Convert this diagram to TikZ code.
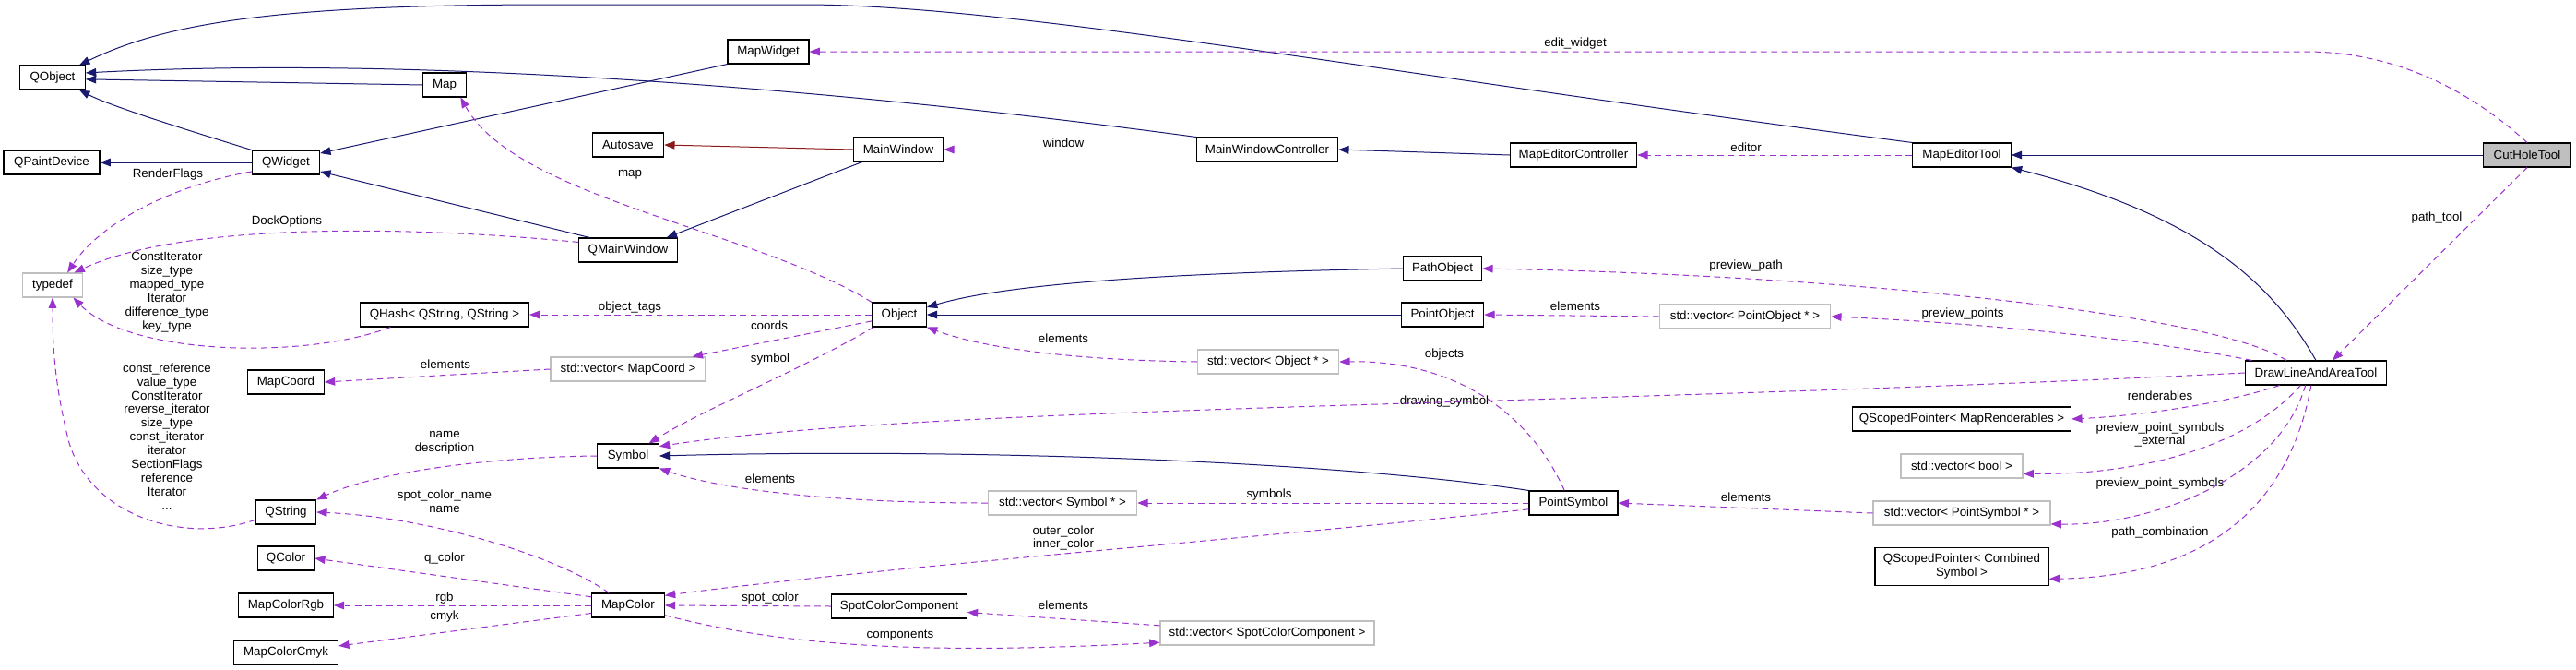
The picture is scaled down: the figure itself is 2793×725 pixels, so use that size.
\documentclass[tikz,border=0pt]{standalone}
\usepackage{fontspec}
\setmainfont{Liberation Sans}
\usetikzlibrary{arrows.meta}
\definecolor{inhcol}{HTML}{191970}
\definecolor{usecol}{HTML}{9A32CD}
\definecolor{privcol}{HTML}{8B1A1A}
\definecolor{undoc}{HTML}{BFBFBF}
\begin{document}
\begin{tikzpicture}[x=0.75pt,y=-0.75pt,
  cls/.style={draw=black,line width=0.8pt,fill=white,inner sep=0pt,minimum height=19.5pt,font=\fontsize{10}{11.2}\selectfont,align=center},
  ext/.style={cls,draw=undoc},
  lbl/.style={inner sep=0pt,font=\fontsize{10}{11.2}\selectfont,align=center},
  inherit/.style={draw=inhcol,line width=0.75pt,-{Triangle[length=8.5pt,width=6.5pt]}},
  private/.style={inherit,draw=privcol},
  usage/.style={draw=usecol,line width=0.75pt,dash pattern=on 5pt off 3.5pt,-{Triangle[length=8.5pt,width=6.5pt]}}]
  \useasboundingbox[fill=white] (0,0) rectangle (2793,725);
  \node[cls,minimum width=53pt] (QObject) at (57,84) {QObject};
  \node[cls,minimum width=35pt] (Map) at (482,92) {Map};
  \node[cls,minimum width=78pt] (QPaintDevice) at (56,176) {QPaintDevice};
  \node[cls,minimum width=55pt] (QWidget) at (310,176) {QWidget};
  \node[cls,minimum width=58pt] (Autosave) at (681,157) {Autosave};
  \node[ext,minimum width=49pt] (typedef) at (57,309) {typedef};
  \node[cls,minimum width=80pt] (QMainWindow) at (681,271) {QMainWindow};
  \node[cls,minimum width=137pt] (QHash) at (482,341) {QHash< QString, QString >};
  \node[cls,minimum width=66pt] (MapWidget) at (833,56) {MapWidget};
  \node[cls,minimum width=73pt] (MainWindow) at (974,162) {MainWindow};
  \node[cls,minimum width=44pt] (Object) at (975,341) {Object};
  \node[cls,minimum width=115pt] (MainWindowController) at (1374,162) {MainWindowController};
  \node[cls,minimum width=103pt] (MapEditorController) at (1706,168) {MapEditorController};
  \node[cls,minimum width=80pt] (MapEditorTool) at (2127,168) {MapEditorTool};
  \node[cls,fill=undoc,minimum width=71pt] (CutHoleTool) at (2740,168) {CutHoleTool};
  \node[cls,minimum width=64pt] (PathObject) at (1564,291) {PathObject};
  \node[cls,minimum width=67pt] (PointObject) at (1564,341) {PointObject};
  \node[ext,minimum width=139pt] (vecPointObject) at (1892,343) {std::vector< PointObject * >};
  \node[cls,minimum width=115pt] (DrawLineAndAreaTool) at (2511,404) {DrawLineAndAreaTool};
  \node[cls,minimum width=178pt] (QSPRenderables) at (2127,454) {QScopedPointer< MapRenderables >};
  \node[ext,minimum width=99pt] (vecBool) at (2127,505) {std::vector< bool >};
  \node[ext,minimum width=144pt] (vecPointSymbol) at (2127,556) {std::vector< PointSymbol * >};
  \node[cls,minimum width=141pt,minimum height=31pt] (QSPCombined) at (2127,614) {QScopedPointer< Combined\\Symbol >};
  \node[cls,minimum width=62pt] (MapCoord) at (310,414) {MapCoord};
  \node[ext,minimum width=126pt] (vecMapCoord) at (681,400) {std::vector< MapCoord >};
  \node[cls,minimum width=50pt] (Symbol) at (681,494) {Symbol};
  \node[cls,minimum width=49pt] (QString) at (310,555) {QString};
  \node[cls,minimum width=46pt] (QColor) at (310,605) {QColor};
  \node[cls,minimum width=77pt] (MapColorRgb) at (310,656) {MapColorRgb};
  \node[cls,minimum width=85pt] (MapColorCmyk) at (310,707) {MapColorCmyk};
  \node[cls,minimum width=59pt] (MapColor) at (681,656) {MapColor};
  \node[cls,minimum width=110pt] (SpotColorComponent) at (975,657) {SpotColorComponent};
  \node[ext,minimum width=174pt] (vecSpotColor) at (1374,686) {std::vector< SpotColorComponent >};
  \node[ext,minimum width=121pt] (vecSymbol) at (1152,545) {std::vector< Symbol * >};
  \node[ext,minimum width=115pt] (vecObject) at (1375,392) {std::vector< Object * >};
  \node[cls,minimum width=72pt] (PointSymbol) at (1706,545) {PointSymbol};
  \node[lbl] (lEditWidget) at (1708,47) {edit\_widget};
  \node[lbl] (lPathTool) at (2642,236) {path\_tool};
  \node[lbl] (lEditor) at (1893,160) {editor};
  \node[lbl] (lWindow) at (1153,155) {window};
  \node[lbl] (lMap) at (683,189) {map};
  \node[lbl] (lRenderFlags) at (182,189) {RenderFlags};
  \node[lbl] (lDockOptions) at (311,240) {DockOptions};
  \node[lbl] (lHashTypes) at (181,317) {ConstIterator\\size\_type\\mapped\_type\\Iterator\\difference\_type\\key\_type};
  \node[lbl] (lStringTypes) at (181,473) {const\_reference\\value\_type\\ConstIterator\\reverse\_iterator\\size\_type\\const\_iterator\\iterator\\SectionFlags\\reference\\Iterator\\...};
  \node[lbl] (lObjectTags) at (683,333) {object\_tags};
  \node[lbl] (lCoords) at (834,353) {coords};
  \node[lbl] (lCoordElements) at (483,395) {elements};
  \node[lbl] (lSymbol) at (835,389) {symbol};
  \node[lbl] (lObjElements) at (1153,367) {elements};
  \node[lbl] (lObjects) at (1566,384) {objects};
  \node[lbl] (lDrawingSymbol) at (1566,435) {drawing\_symbol};
  \node[lbl] (lPreviewPath) at (1893,288) {preview\_path};
  \node[lbl] (lPreviewPoints) at (2128,340) {preview\_points};
  \node[lbl] (lPtObjElements) at (1708,332) {elements};
  \node[lbl] (lRenderables) at (2342,429) {renderables};
  \node[lbl] (lSymbolsExternal) at (2342,471) {preview\_point\_symbols\\\_external};
  \node[lbl] (lPointSymbols) at (2342,524) {preview\_point\_symbols};
  \node[lbl] (lPathCombination) at (2342,577) {path\_combination};
  \node[lbl] (lPtSymElements) at (1893,539) {elements};
  \node[lbl] (lSymbols) at (1376,536) {symbols};
  \node[lbl] (lSymElements) at (835,519) {elements};
  \node[lbl] (lNameDescription) at (482,480) {name\\description};
  \node[lbl] (lSpotColorName) at (482,543) {spot\_color\_name\\name};
  \node[lbl] (lQColor) at (482,605) {q\_color};
  \node[lbl] (lRgb) at (482,648) {rgb};
  \node[lbl] (lCmyk) at (482,668) {cmyk};
  \node[lbl] (lInnerOuter) at (1153,583) {outer\_color\\inner\_color};
  \node[lbl] (lSpotColor) at (835,648) {spot\_color};
  \node[lbl] (lSpotElements) at (1153,656) {elements};
  \node[lbl] (lComponents) at (976,689) {components};
  \draw[inherit] (QWidget.north west) .. controls (200,140) and (120,115) .. (QObject.-25);
  \draw[inherit] (Map.west) -- (QObject.-3);
  \draw[inherit] (MainWindowController.north west) .. controls (900,95) and (450,60) .. (QObject.8);
  \draw[inherit] (MapEditorTool.north west) .. controls (1500,80) and (1100,5) .. (870,5) -- (600,5) .. controls (300,5) and (180,25) .. (QObject.25);
  \draw[inherit] (MapWidget.south west) -- (QWidget.15);
  \draw[inherit] (QMainWindow.162) -- (QWidget.-15);
  \draw[inherit] (QWidget.west) -- (QPaintDevice.east);
  \draw[inherit] (MainWindow.-161) -- (QMainWindow.18);
  \draw[private] (MainWindow.west) -- (Autosave.east);
  \draw[inherit] (MapEditorController.west) -- (MainWindowController.east);
  \draw[inherit] (CutHoleTool.west) -- (MapEditorTool.east);
  \draw[inherit] (DrawLineAndAreaTool.north) .. controls (2465,310) and (2390,235) .. (MapEditorTool.south east);
  \draw[inherit] (PathObject.west) .. controls (1300,295) and (1100,305) .. (Object.15);
  \draw[inherit] (PointObject.west) -- (Object.east);
  \draw[inherit] (PointSymbol.north west) .. controls (1450,500) and (1050,485) .. (Symbol.east);
  \draw[usage] (CutHoleTool.north) .. controls (2680,100) and (2600,56) .. (2500,56) -- (MapWidget.east);
  \draw[usage] (CutHoleTool.south) -- (DrawLineAndAreaTool.37);
  \draw[usage] (MapEditorTool.west) -- (MapEditorController.east);
  \draw[usage] (MainWindowController.west) -- (MainWindow.east);
  \draw[usage] (Object.north west) .. controls (820,250) and (560,215) .. (Map.-38);
  \draw[usage] (QWidget.-165) .. controls (190,200) and (110,240) .. (typedef.40);
  \draw[usage] (QMainWindow.171) .. controls (450,245) and (200,240) .. (typedef.30);
  \draw[usage] (QHash.-167) .. controls (330,390) and (140,385) .. (typedef.-31);
  \draw[usage] (QString.-166) .. controls (200,590) and (100,560) .. (75,480) .. controls (60,420) and (57,380) .. (typedef.south);
  \draw[usage] (Object.west) -- (QHash.east);
  \draw[usage] (Object.-167) -- (vecMapCoord.11);
  \draw[usage] (vecMapCoord.west) -- (MapCoord.east);
  \draw[usage] (Object.-154) .. controls (870,400) and (760,445) .. (Symbol.31);
  \draw[usage] (vecObject.west) .. controls (1150,390) and (1060,375) .. (Object.south east);
  \draw[usage] (PointSymbol.126) .. controls (1660,450) and (1580,390) .. (vecObject.east);
  \draw[usage] (DrawLineAndAreaTool.west) .. controls (1700,440) and (1000,440) .. (Symbol.17);
  \draw[usage] (DrawLineAndAreaTool.157) .. controls (2400,340) and (2000,298) .. (PathObject.east);
  \draw[usage] (DrawLineAndAreaTool.169) .. controls (2330,368) and (2150,350) .. (vecPointObject.east);
  \draw[usage] (vecPointObject.west) -- (PointObject.east);
  \draw[usage] (DrawLineAndAreaTool.-161) .. controls (2420,435) and (2330,450) .. (QSPRenderables.east);
  \draw[usage] (DrawLineAndAreaTool.-141) .. controls (2440,480) and (2330,515) .. (vecBool.-7);
  \draw[usage] (DrawLineAndAreaTool.-130) .. controls (2470,520) and (2330,570) .. (vecPointSymbol.-7);
  \draw[usage] (DrawLineAndAreaTool.-111) .. controls (2480,560) and (2380,625) .. (QSPCombined.-8);
  \draw[usage] (vecPointSymbol.west) -- (PointSymbol.east);
  \draw[usage] (PointSymbol.west) -- (vecSymbol.east);
  \draw[usage] (vecSymbol.west) .. controls (900,545) and (780,530) .. (Symbol.south east);
  \draw[usage] (Symbol.west) .. controls (540,495) and (410,510) .. (QString.north east);
  \draw[usage] (MapColor.147) .. controls (600,600) and (460,560) .. (QString.east);
  \draw[usage] (MapColor.167) -- (QColor.east);
  \draw[usage] (MapColor.west) -- (MapColorRgb.east);
  \draw[usage] (MapColor.-168) -- (MapColorCmyk.7);
  \draw[usage] (PointSymbol.-172) .. controls (1400,580) and (950,615) .. (MapColor.15);
  \draw[usage] (SpotColorComponent.west) -- (MapColor.east);
  \draw[usage] (vecSpotColor.176) -- (SpotColorComponent.-5);
  \draw[usage] (MapColor.-15) .. controls (850,700) and (1000,710) .. (vecSpotColor.-175);
\end{tikzpicture}
\end{document}
